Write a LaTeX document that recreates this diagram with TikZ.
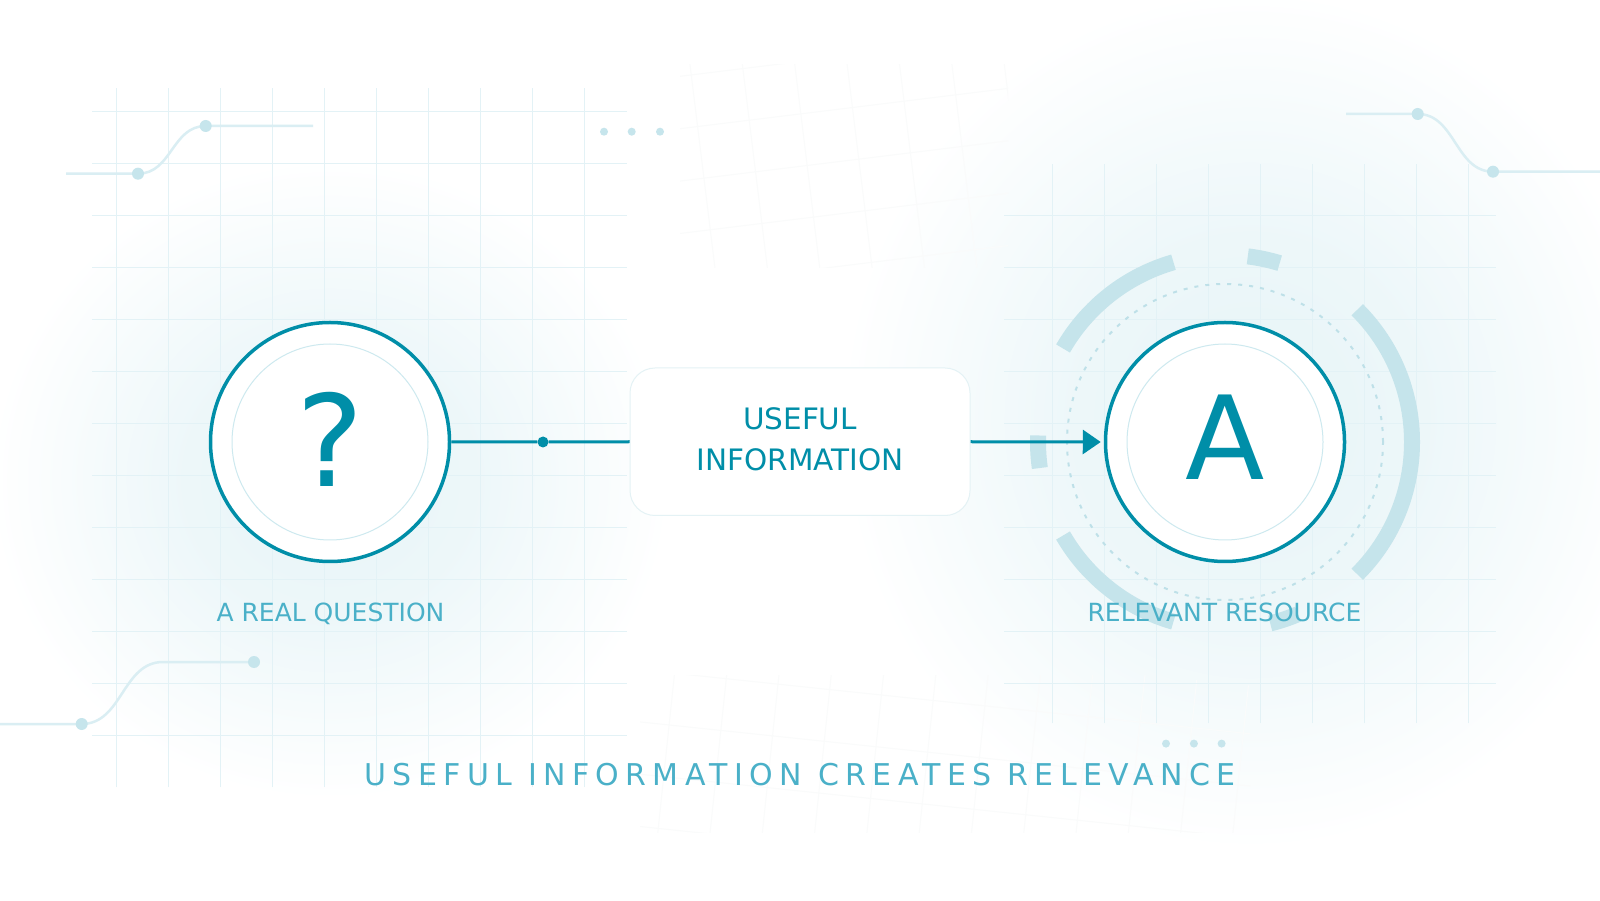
\documentclass[tikz,border=0pt]{standalone}
\usepackage{fontspec}
\setmainfont{DejaVu Sans}
\newfontfamily\spacedfont{DejaVu Sans}[LetterSpace=21.3]
\usetikzlibrary{arrows.meta,positioning}
\definecolor{deepteal}{HTML}{008EA8}
\definecolor{softteal}{HTML}{4AB0C8}
\definecolor{bandteal}{HTML}{C5E4EB}
\definecolor{dashteal}{HTML}{BEE0E8}
\definecolor{ringteal}{HTML}{CDE9EF}
\definecolor{boxedge}{HTML}{E4F2F5}
\definecolor{gridteal}{HTML}{E3F2F6}
\definecolor{wireteal}{HTML}{DAEEF3}
\definecolor{wiredotc}{HTML}{C6E5EC}
\definecolor{ghostgray}{HTML}{FAFBFB}
\definecolor{glowtint}{HTML}{E6F4F7}
\pgfdeclareradialshading{glowfade}{\pgfpoint{0bp}{0bp}}{color(0bp)=(glowtint); color(11bp)=(glowtint!70!white); color(25bp)=(white); color(50bp)=(white)}
\newcommand{\wire}[6]{
\draw[wireline] (#1,#2)--(#3,#2) .. controls (.5*#3+.5*#5,#2) and (.5*#3+.5*#5,#4) .. (#5,#4)--(#6,#4);
}
\newcommand{\band}[2]{
\draw[arcband] (acirc.center) ++(#1:187pt) arc[start angle=#1,end angle=#2,radius=187pt];
}

\begin{document}
\begin{tikzpicture}[x=1pt,y=1pt,
  bigring/.style={circle,draw=deepteal,line width=3.5pt,fill=white,minimum size=239pt,inner sep=0pt,text=deepteal},
  thinring/.style={draw=ringteal,line width=1pt},
  infobox/.style={draw=boxedge,line width=1pt,fill=white,rounded corners=25pt,minimum width=340pt,minimum height=147.5pt,align=center,text=deepteal,font=\fontsize{29.5}{41}\selectfont,text depth=6pt},
  flowline/.style={draw=deepteal,line width=3pt},
  hubdot/.style={circle,fill=deepteal,minimum size=11pt,inner sep=0pt},
  wireline/.style={draw=wireteal,line width=2.5pt},
  gridline/.style={draw=gridteal,line width=1pt},
  ghostline/.style={draw=ghostgray,line width=1pt},
  arcband/.style={draw=bandteal,line width=16pt},
  dashring/.style={draw=dashteal,line width=2pt,dash pattern=on 4pt off 7pt},
  nodecaption/.style={text=softteal,font=\fontsize{25}{30}\selectfont,inner sep=0pt},
  tagline/.style={text=softteal,font=\spacedfont\fontsize{30}{36}\selectfont,inner sep=0pt}]
\useasboundingbox (0,0) rectangle (1600,900);
\fill[white] (0,0) rectangle (1600,900);
\begin{scope}
\clip (0,0) rectangle (1600,900);
\shade[shading=glowfade] (330,420) ellipse (340pt and 320pt);
\shade[shading=glowfade] (1250,480) ellipse (410pt and 430pt);
\end{scope}
% faint tilted grids
\begin{scope}
\clip (680,632) rectangle (1008,835);
\begin{scope}[shift={(683.3,771.7)},rotate=7]
\foreach \k in {-3,...,3} \draw[ghostline] (-60,52*\k) -- (420,52*\k);
\foreach \k in {-1,...,7} \draw[ghostline] (14.4+52*\k,-200) -- (14.4+52*\k,200);
\end{scope}
\end{scope}
\begin{scope}
\clip (640,68) rectangle (1250,225);
\begin{scope}[shift={(653,176.7)},rotate=-6]
\foreach \k in {-3,...,1} \draw[ghostline] (-40,52*\k) -- (640,52*\k);
\foreach \k in {-1,...,12} \draw[ghostline] (16.2+52*\k,-200) -- (16.2+52*\k,100);
\end{scope}
\end{scope}
\foreach \k in {0,...,12} \draw[gridline] (92,788.3-52*\k) -- (626.7,788.3-52*\k);
\foreach \k in {0,...,9} \draw[gridline] (116+52*\k,113) -- (116+52*\k,812);
\foreach \k in {0,...,9} \draw[gridline] (1004,684.4-52*\k) -- (1496,684.4-52*\k);
\foreach \k in {0,...,8} \draw[gridline] (1052.5+52*\k,177) -- (1052.5+52*\k,736);
\wire{66}{726.3}{138}{774}{205.7}{313}
\wire{0}{176}{81.7}{238}{163}{254}
\wire{1346}{786}{1417.7}{728.3}{1493}{1600}
\fill[wiredotc] (138,726.3) circle (6pt) (205.7,774) circle (6pt);
\fill[wiredotc] (81.7,176) circle (6pt) (254,238) circle (6pt);
\fill[wiredotc] (1417.7,786) circle (6pt) (1493,728.3) circle (6pt);
\fill[wiredotc] (604,768.3) circle (4pt) (631.7,768.3) circle (4pt) (660,768.3) circle (4pt);
\fill[wiredotc] (1166,156.4) circle (4pt) (1193.9,156.4) circle (4pt) (1221.6,156.4) circle (4pt);
\node[bigring,font=\fontsize{127}{127}\selectfont,text depth=6pt] (qcirc) at (330,458) {?};
\node[bigring,font=\fontsize{116}{116}\selectfont,text depth=10pt] (acirc) at (1225,458) {A};
\draw[thinring] (qcirc.center) circle (98pt);
\draw[thinring] (acirc.center) circle (98pt);
\band{-45}{45}
\band{73}{83}
\band{106}{150}
\band{178}{188}
\band{210}{254}
\band{-76}{-67}
\draw[dashring] (acirc.center) circle (158pt);
\node[infobox] (infobox) at (800,458.25) {USEFUL\\INFORMATION};
\node[hubdot] (qhub) at (543,458) {};
\draw[flowline] (qcirc.east) -- (qhub) -- (infobox.west);
\draw[flowline,-{Triangle[length=18pt,width=24pt]},shorten >=3pt] (infobox.east) -- (acirc.west);
\path (330.5,278) node[nodecaption,anchor=base] (qlabel) {A REAL QUESTION};
\path (1224.5,278) node[nodecaption,anchor=base] (alabel) {RELEVANT RESOURCE};
\path (800,115) node[tagline,anchor=base] (motto) {USEFUL INFORMATION CREATES RELEVANCE};
\end{tikzpicture}
\end{document}
